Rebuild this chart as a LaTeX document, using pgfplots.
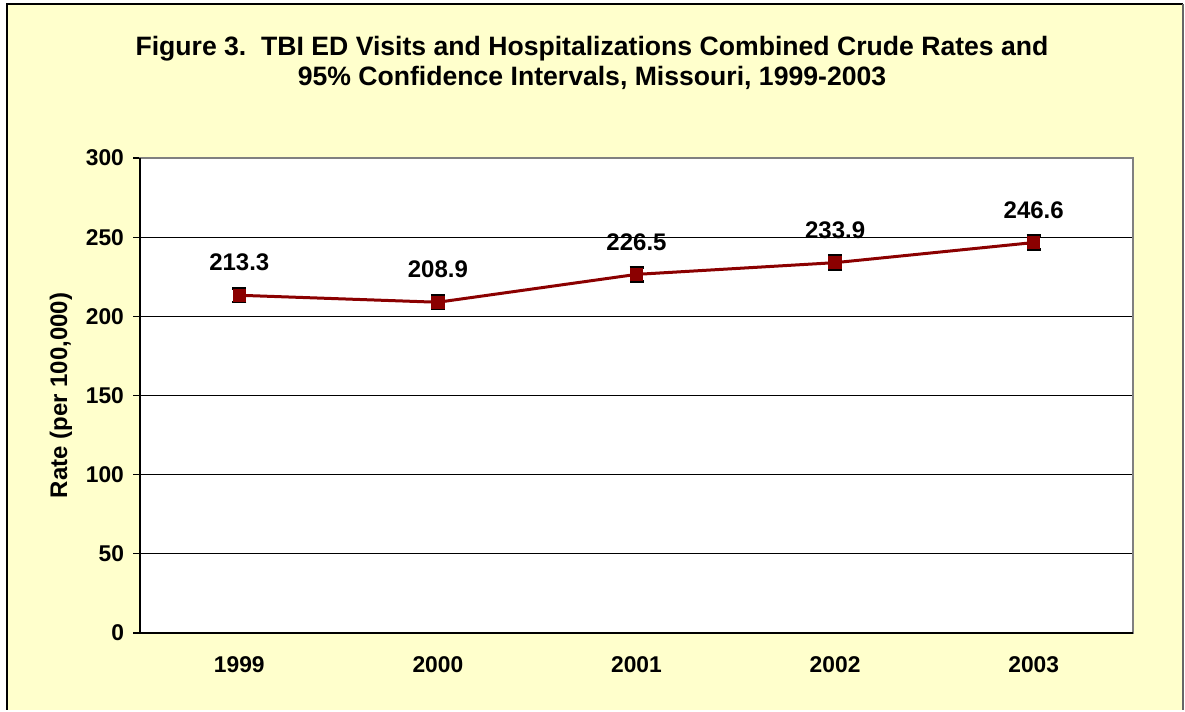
\documentclass[border=0pt]{standalone}
\usepackage{pgfplots}
\pgfplotsset{compat=1.18}
\usepackage{fontspec}
\setmainfont{Liberation Sans}
\definecolor{bgy}{HTML}{FFFFCC}
\definecolor{dred}{HTML}{8B0000}
\begin{document}
\begin{tikzpicture}
\fill[white] (0pt,0pt) rectangle (592.5pt,355pt);
\fill[bgy] (3.5pt,0pt) rectangle (591.5pt,353pt);
\draw[black,line width=1.2pt] (3.5pt,0pt) -- (3.5pt,353pt) -- (591.5pt,353pt);
\draw[gray!80!black,line width=1.2pt] (591.5pt,0pt) -- (591.5pt,353pt);
\node[font=\bfseries\fontsize{13.3}{15}\selectfont,align=center] at (296pt,323.5pt) {Figure 3.\ \ TBI ED Visits and Hospitalizations Combined Crude Rates and\\95\% Confidence Intervals, Missouri, 1999-2003};
\begin{axis}[
  at={(70pt,38.5pt)}, anchor=south west,
  scale only axis, width=496.5pt, height=237.5pt,
  xmin=0.5, xmax=5.5, ymin=0, ymax=300,
  xtick={1,2,3,4,5}, xticklabels={1999,2000,2001,2002,2003},
  minor xtick={0.5,1.5,2.5,3.5,4.5,5.5},
  ytick={0,50,100,150,200,250,300},
  tick align=outside, major tick length=3.5pt, minor tick length=3.5pt,
  xtick style={draw=none}, minor x tick style={black,line width=0.6pt},
  ytick style={black,line width=0.6pt},
  xtick pos=bottom, ytick pos=left,
  ymajorgrids, grid style={black,line width=0.5pt},
  axis background/.style={fill=white},
  axis line style={gray,line width=1.3pt},
  tick label style={font=\bfseries\fontsize{11.4}{12}\selectfont},
  /pgf/number format/assume math mode=true,
  yticklabel style={xshift=-1pt},
  xticklabel style={yshift=-5pt},
  ylabel={Rate (per 100,000)},
  ylabel style={font=\bfseries\fontsize{12}{13}\selectfont, yshift=0pt},
  clip=false,
]
\addplot[dred, line width=1.5pt, mark=square*, mark size=2.6pt,
  mark options={fill=dred,draw=dred}]
  coordinates {(1,213.3) (2,208.9) (3,226.5) (4,233.9) (5,246.6)};
\addplot[draw=none, mark=none,
  error bars/.cd, y dir=both, y explicit,
  error bar style={black,line width=1pt},
  error mark options={rotate=90,mark size=3.5pt,black,line width=1.2pt}]
  coordinates {
  (1,213.3) +- (0,4.4)
  (2,208.9) +- (0,4.4)
  (3,226.5) +- (0,4.4)
  (4,233.9) +- (0,4.4)
  (5,246.6) +- (0,4.4)
  };
\addplot[only marks, mark=none, nodes near coords, point meta=explicit symbolic,
  nodes near coords style={font=\bfseries\fontsize{12}{13}\selectfont, yshift=8.5pt}]
  coordinates {(1,213.3)[213.3] (2,208.9)[208.9] (3,226.5)[226.5] (4,233.9)[233.9] (5,246.6)[246.6]};
\draw[black,line width=1.2pt] (axis cs:0.5,300) -- (axis cs:0.5,0) -- (axis cs:5.5,0);
\end{axis}
\end{tikzpicture}
\end{document}
